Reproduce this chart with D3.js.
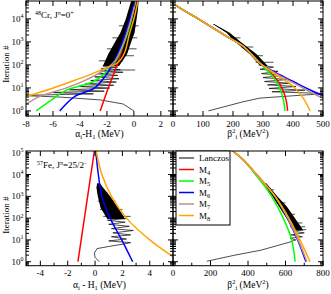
<!DOCTYPE html>
<html>
<head>
<meta charset="utf-8">
<script src="https://cdn.jsdelivr.net/npm/d3@7"></script>
<style>
body{margin:0;background:#fff}
svg{display:block}
text{font-family:"Liberation Serif","DejaVu Serif",serif;fill:#000}
</style>
</head>
<body>
<svg id="chart" width="331" height="294"></svg>
<script>
// ---- data ----
// 48Cr, alpha_i - H_1 vs iteration : [x, iter]
var crAlphaLanczos = [[0,1],[-0.8,2],[-2.5,3],[-5.5,4],[-8.5,4.7],[-3,5.5],[-6.2,6.3],[-2.2,7.2],[-4.8,8.3],[-1.8,9.8],[-4.1,11.5],[-1.5,13],[-3.6,15],[-1.3,18],[-3.2,21],[-1.1,25],[-2.9,30],[-1.2,35],[-2.7,41],[-0.8,48],[-2.5,55],[-1.0,62],[-2.4,70],[-1.2,80],[-2.3,90],[-1.1,100]];
var crAlphaBand = [[90,-2.3,-1.1],[300,-1.9,-0.5],[1000,-1.4,-0.2],[2500,-1.0,0.05],[1e4,-0.6,0.2],[2.5e4,-0.4,0.3],[6e4,-0.2,0.35]];
var crAlphaSpikes = [[60,-1.5,0.1],[150,-2.6,-0.8],[250,-1.6,0.0],[500,-2.0,0.2],[1500,-1.6,0.25],[5000,-1.1,0.35]];
var crAlphaM4 = [[-2.5,1],[-1.9,10],[-1.25,100],[-0.7,1000],[-0.2,1e4],[0.1,6e4]];
var crAlphaM5 = [[-7.25,1],[-6.1,3],[-5.0,8],[-3.0,19],[-2.0,51],[-1.3,160],[-0.8,700],[-0.3,5000],[0.1,6e4]];
var crAlphaM6 = [[-5.5,1],[-4.4,4.2],[-2.9,10],[-2.1,34],[-1.6,100],[-0.85,1000],[-0.3,1e4],[0.05,6e4]];
var crAlphaM7 = [[-8,1.95],[-7,4.2],[-5,10],[-3.5,23],[-2.3,55],[-1.4,150],[-0.8,800],[-0.25,8000],[0.15,6e4]];
var crAlphaM8 = [[-8,4.2],[-6.2,9],[-5.0,16],[-3.3,37],[-2.1,72],[-1.2,125],[-0.7,330],[-0.35,2000],[0.0,1e4],[0.3,6e4]];

// 48Cr, beta_i^2 vs iteration : [x, iter]
var crBetaLanczos = [[118,1],[234,2.5],[290,3.6],[446,5],[520,5.6],[330,6.8],[440,8],[320,9.5],[410,11.5],[315,13.5],[390,16],[305,19],[380,23],[300,28],[365,35],[295,42],[350,52],[290,65],[335,80],[285,100]];
var crBetaBand = [[90,292,316],[300,255,278],[1000,208,226],[2500,178,189],[6000,132,137]];
var crBetaSpikes = [[130,275,335],[250,262,300],[600,228,268],[1500,192,225]];
var crBetaM4 = [[-5,6e4],[0,4.8e4],[90,9e3],[180,1.7e3],[235,630],[290,118],[330,40],[360,12],[377,3],[382,1]];
var crBetaM5 = [[-5,6e4],[0,4.8e4],[90,9e3],[180,1.7e3],[235,630],[290,118],[325,40],[348,16],[368,3],[373,1]];
var crBetaM6 = [[-5,6e4],[0,4.8e4],[90,9e3],[180,1.7e3],[235,630],[290,118],[345,44],[401,19],[450,9],[510,4]];
var crBetaM7 = [[-5,6e4],[0,4.8e4],[90,9e3],[180,1.7e3],[235,630],[290,118],[343,42],[400,17],[450,7.5],[510,3]];
var crBetaM8 = [[-5,6e4],[0,4.8e4],[90,9e3],[180,1.7e3],[235,630],[290,118],[340,40],[401,11.5],[434,3.6],[457,1]];

// 57Fe, alpha_i - H_1 vs iteration
var feAlphaLanczos = [[0.3,1],[0.0,1.6],[-0.05,2.5],[0.15,4],[1.0,5],[2.1,6.5],[2.6,7.5],[1.0,9],[2.3,11],[1.2,14],[2.6,17],[1.3,21],[2.8,27],[1.2,33],[2.5,42],[1.0,52],[2.2,65],[0.9,80],[2.3,95]];
var feAlphaBand = [[90,0.9,2.2],[300,0.4,1.7],[1000,0.2,1.1],[2500,0.1,0.6],[4000,0.15,0.35]];
var feAlphaSpikes = [[120,0.6,2.6],[250,0.35,2.0],[600,0.2,1.5],[1500,0.15,0.9]];
var feAlphaM4 = [[-1.25,1],[-0.05,1.2e5]];
var feAlphaM6 = [[2.75,1],[1.95,10],[1.1,100],[0.5,1e3],[0.24,1e4],[0.05,1.2e5]];
var feAlphaM8 = [[5.9,1.4],[4.0,10],[2.3,100],[1.2,1e3],[0.5,1e4],[0.08,1.2e5]];

// 57Fe, beta_i^2 vs iteration
var feBetaLanczos = [[180,1.05],[330,2.0],[470,3.4],[624,8],[655,10],[625,12],[690,14],[630,17],[700,21],[640,25],[710,30]];
var feBetaBand = [[28,645,695],[80,612,658],[330,566,608],[1000,530,556],[4000,482,498]];
var feBetaSpikes = [[40,625,705],[60,618,690],[150,592,650],[500,552,600],[2000,508,538]];
var feBetaM5 = [[318,1.2e5],[375,4.7e4],[440,1e4],[526,1e3],[588,100],[633,10],[651,1]];
var feBetaM6 = [[318,1.2e5],[375,4.7e4],[446,1e4],[544,1e3],[610,100],[665,10],[709,1]];
var feBetaM7 = [[318,1.2e5],[375,4.7e4],[446,1e4],[544,1e3],[612,100],[668,10],[714,1]];
var feBetaM8 = [[318,1.2e5],[375,4.7e4],[446,1e4],[544,1e3],[615,110],[677,10],[731,1]];

var seriesNames = ["Lanczos","M4","M5","M6","M7","M8"];
var seriesColors = {Lanczos:"#000", M4:"#ff0000", M5:"#00ff00", M6:"#0000ff", M7:"#bc8f8f", M8:"#ffa500"};

// ---- layout ----
var svg = d3.select("#chart");

var panels = [
  {id:"tl", x:d3.scaleLinear([-8,2.9],[26,173]), y:d3.scaleLog([0.6,6e4],[116,1]),
   major:d3.range(-8,3,2), minor:d3.range(-8,3,1), yLabels:true,
   lanczos:crAlphaLanczos, band:crAlphaBand, spikes:crAlphaSpikes,
   models:{M4:crAlphaM4,M5:crAlphaM5,M6:crAlphaM6,M7:crAlphaM7,M8:crAlphaM8}},
  {id:"tr", x:d3.scaleLinear([0,500],[173,323]), y:d3.scaleLog([0.6,6e4],[116,1]),
   major:d3.range(0,501,100), minor:d3.range(0,501,50), yLabels:false,
   lanczos:crBetaLanczos, band:crBetaBand, spikes:crBetaSpikes,
   models:{M4:crBetaM4,M5:crBetaM5,M6:crBetaM6,M7:crBetaM7,M8:crBetaM8}},
  {id:"bl", x:d3.scaleLinear([-5.05,5.7],[26,173]), y:d3.scaleLog([0.656,1.2e5],[265.7,151]),
   major:d3.range(-4,5,2), minor:d3.range(-5,6,1), yLabels:true,
   lanczos:feAlphaLanczos, band:feAlphaBand, spikes:feAlphaSpikes,
   models:{M4:feAlphaM4,M6:feAlphaM6,M8:feAlphaM8}},
  {id:"br", x:d3.scaleLinear([0,800],[173,323]), y:d3.scaleLog([0.656,1.2e5],[265.7,151]),
   major:d3.range(0,801,200), minor:d3.range(0,801,100), yLabels:false,
   lanczos:feBetaLanczos, band:feBetaBand, spikes:feBetaSpikes,
   models:{M5:feBetaM5,M6:feBetaM6,M7:feBetaM7,M8:feBetaM8}}
];

function drawPanel(p){
  var x0 = p.x.range()[0], x1 = p.x.range()[1];
  var yb = p.y.range()[0], yt = p.y.range()[1];

  svg.append("clipPath").attr("id","clip-"+p.id)
    .append("rect").attr("x",x0).attr("y",yt).attr("width",x1-x0).attr("height",yb-yt);

  var g = svg.append("g").attr("clip-path","url(#clip-"+p.id+")");

  // lanczos dense band
  g.append("path")
    .datum(p.band)
    .attr("d", d3.area().y(d => p.y(d[0])).x0(d => p.x(d[1])).x1(d => p.x(d[2])))
    .style("fill","#000");

  g.selectAll("line.spike")
    .data(p.spikes)
    .enter()
    .append("line")
    .attr("class","spike")
    .attr("x1", d => p.x(d[1]))
    .attr("x2", d => p.x(d[2]))
    .attr("y1", d => p.y(d[0]))
    .attr("y2", d => p.y(d[0]))
    .style("stroke","#000")
    .style("stroke-width",0.7);

  g.append("path")
    .datum(p.lanczos)
    .attr("d", d3.line().x(d => p.x(d[0])).y(d => p.y(d[1])))
    .style("fill","none")
    .style("stroke","#000")
    .style("stroke-width",0.7);

  var curve = d3.line().x(d => p.x(d[0])).y(d => p.y(d[1])).curve(d3.curveCatmullRom);
  Object.keys(p.models).forEach(k => {
    g.append("path")
      .datum(p.models[k])
      .attr("d", curve)
      .style("fill","none")
      .style("stroke", seriesColors[k])
      .style("stroke-width",1.5);
  });

  // frame
  svg.append("rect")
    .attr("x",x0).attr("y",yt).attr("width",x1-x0).attr("height",yb-yt)
    .style("fill","none").style("stroke","#000").style("stroke-width",1);

  var ticks = svg.append("g").style("stroke","#000").style("stroke-width",1);

  // x ticks, bottom and top, pointing in
  p.minor.forEach(v => {
    var len = p.major.indexOf(v) >= 0 ? 5 : 3;
    var xx = p.x(v);
    ticks.append("line").attr("x1",xx).attr("x2",xx).attr("y1",yb).attr("y2",yb-len);
    ticks.append("line").attr("x1",xx).attr("x2",xx).attr("y1",yt).attr("y2",yt+len);
  });

  // y log ticks, both sides
  var dom = p.y.domain();
  for (var e = Math.floor(Math.log10(dom[0])); e <= Math.ceil(Math.log10(dom[1])); e++) {
    for (var m = 1; m < 10; m++) {
      var v = m * Math.pow(10, e);
      if (v < dom[0] || v > dom[1]) continue;
      var len = m == 1 ? 5 : 3;
      var yy = p.y(v);
      ticks.append("line").attr("x1",x0).attr("x2",x0+len).attr("y1",yy).attr("y2",yy);
      ticks.append("line").attr("x1",x1).attr("x2",x1-len).attr("y1",yy).attr("y2",yy);
    }
  }

  // x tick labels
  svg.selectAll("text.xl-"+p.id)
    .data(p.major)
    .enter()
    .append("text")
    .attr("class","xl-"+p.id)
    .attr("x", d => p.x(d))
    .attr("y", yb + 10.5)
    .attr("text-anchor","middle")
    .attr("font-size","9px")
    .text(d => String(d));

  if (p.yLabels) {
    var decs = d3.range(Math.ceil(Math.log10(dom[0])), Math.floor(Math.log10(dom[1]))+1);
    var t = svg.selectAll("text.yl-"+p.id)
      .data(decs)
      .enter()
      .append("text")
      .attr("class","yl-"+p.id)
      .attr("x", 23.5)
      .attr("y", d => p.y(Math.pow(10,d)) + 3)
      .attr("text-anchor","end")
      .attr("font-size","9px");
    t.append("tspan").text("10");
    t.append("tspan").attr("dy",-3.5).attr("font-size","6px").text(d => d);
  }
}

panels.forEach(drawPanel);

// axis titles
function alphaTitle(y, spaced){
  var t = svg.append("text").attr("x",99.5).attr("y",y).attr("text-anchor","middle").attr("font-size","9.5px");
  t.append("tspan").text("α");
  t.append("tspan").attr("dy",2).attr("font-size","6.5px").text("i");
  t.append("tspan").attr("dy",-2).text(spaced ? " - H" : "-H");
  t.append("tspan").attr("dy",2).attr("font-size","6.5px").text("1");
  t.append("tspan").attr("dy",-2).text(" (MeV)");
}
function betaTitle(y){
  var t = svg.append("text").attr("x",248).attr("y",y).attr("text-anchor","middle").attr("font-size","9.5px");
  t.append("tspan").text("β");
  t.append("tspan").attr("dy",-4).attr("font-size","6.5px").text("2");
  t.append("tspan").attr("dy",6).attr("font-size","6.5px").text("i");
  t.append("tspan").attr("dy",-2).text(" (MeV");
  t.append("tspan").attr("dy",-4).attr("font-size","6.5px").text("2");
  t.append("tspan").attr("dy",4).text(")");
}
alphaTitle(136.5, false);
betaTitle(137);
alphaTitle(288, true);
betaTitle(288);

// y titles
[64, 215].forEach(cy => {
  svg.append("text")
    .attr("transform","translate(8.5,"+cy+") rotate(-90)")
    .attr("text-anchor","middle")
    .attr("font-size","9px")
    .text("Iteration #");
});

// nucleus labels
var a1 = svg.append("text").attr("x",35).attr("y",18).attr("font-size","9px");
a1.append("tspan").attr("dy",-3.5).attr("font-size","6px").text("48");
a1.append("tspan").attr("dy",3.5).text("Cr, J");
a1.append("tspan").attr("dy",-3.5).attr("font-size","6px").text("π");
a1.append("tspan").attr("dy",3.5).text("=0");
a1.append("tspan").attr("dy",-3.5).attr("font-size","6px").text("+");

var a2 = svg.append("text").attr("x",37).attr("y",168).attr("font-size","9px");
a2.append("tspan").attr("dy",-3.5).attr("font-size","6px").text("57");
a2.append("tspan").attr("dy",3.5).text("Fe, J");
a2.append("tspan").attr("dy",-3.5).attr("font-size","6px").text("π");
a2.append("tspan").attr("dy",3.5).text("=25/2");
a2.append("tspan").attr("dy",-3.5).attr("font-size","6px").text("-");

// legend
var legend = svg.append("g");
legend.append("rect").attr("x",176).attr("y",151).attr("width",54).attr("height",74)
  .style("fill","#fff").style("stroke","#000").style("stroke-width",1);
var legY = d3.scaleLinear([0,5],[158,215.5]);
var items = legend.selectAll("g.item").data(seriesNames).enter().append("g").attr("class","item");
items.append("line")
  .attr("x1",179).attr("x2",194)
  .attr("y1",(d,i) => legY(i)).attr("y2",(d,i) => legY(i))
  .style("stroke", d => seriesColors[d])
  .style("stroke-width", d => d == "Lanczos" ? 1 : 1.5);
var lt = items.append("text")
  .attr("x",199).attr("y",(d,i) => legY(i) + 3)
  .attr("font-size","9px");
lt.append("tspan").text(d => d == "Lanczos" ? d : "M");
lt.append("tspan").attr("dy",2).attr("font-size","6.5px").text(d => d == "Lanczos" ? "" : d.slice(1));
</script>
</body>
</html>
